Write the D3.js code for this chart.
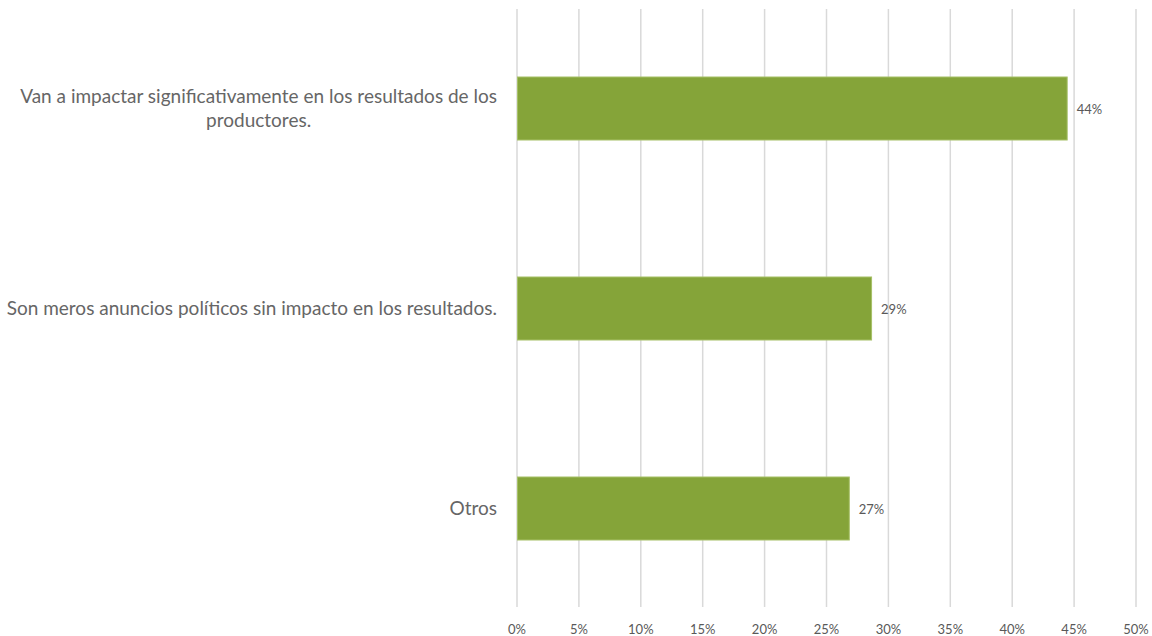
<!DOCTYPE html>
<html><head><meta charset="utf-8">
<script src="https://cdn.jsdelivr.net/npm/d3@7"></script>
<style>body{margin:0;background:#fff}svg{display:block}text{font-family:Lato,"Open Sans",sans-serif}</style>
</head><body>
<svg id="c" width="1152" height="636"></svg>
<script>
const categories = [
  ["Van a impactar significativamente en los resultados de los", "productores."],
  ["Son meros anuncios políticos sin impacto en los resultados."],
  ["Otros"]
];
const values = [0.444, 0.286, 0.268];
const valueLabels = ["44%", "29%", "27%"];
const ticks = [0, 0.05, 0.1, 0.15, 0.2, 0.25, 0.3, 0.35, 0.4, 0.45, 0.5];

const svg = d3.select("#c");
const x = d3.scaleLinear().domain([0, 0.5]).range([517, 1136]);
const y = d3.scaleBand().domain(d3.range(categories.length)).range([8.5, 608.5]).paddingInner(0.685).paddingOuter(0.3425);

// gridlines
svg.append("g").selectAll("line").data(ticks).join("line")
  .attr("x1", d => x(d)).attr("x2", d => x(d))
  .attr("y1", 9).attr("y2", 607)
  .attr("stroke", "#d9d9d9").attr("stroke-width", 1.5);

// tick labels
svg.append("g").selectAll("text").data(ticks).join("text")
  .attr("x", d => x(d)).attr("y", 634)
  .attr("text-anchor", "middle").attr("fill", "#595959").attr("font-size", 13)
  .text(d => d3.format(".0%")(d));

// bars
svg.append("g").selectAll("rect").data(values).join("rect")
  .attr("x", x(0) + 0.5).attr("y", (d, i) => y(i))
  .attr("width", d => x(d) - x(0)).attr("height", y.bandwidth())
  .attr("fill", "#85a439").attr("stroke", "#a6c067").attr("stroke-width", 1);

// value labels
svg.append("g").selectAll("text").data(values).join("text")
  .attr("x", d => x(d) + 10).attr("y", (d, i) => y(i) + y.bandwidth() / 2 + 5)
  .attr("fill", "#595959").attr("font-size", 13)
  .text((d, i) => valueLabels[i]);

// category labels
const lh = 24;
const cat = svg.append("g").selectAll("text").data(categories).join("text")
  .attr("text-anchor", "middle").attr("fill", "#666").attr("font-size", 19);
cat.each(function(lines, i) {
  const t = d3.select(this);
  const cy = y(i) + y.bandwidth() / 2;
  const y0 = cy - (lines.length - 1) * lh / 2 + 6;
  lines.forEach((l, j) => {
    t.append("tspan").attr("y", y0 + j * lh).text(l);
  });
});
cat.each(function() {
  const t = d3.select(this);
  let maxW = 0;
  t.selectAll("tspan").each(function() { maxW = Math.max(maxW, this.getComputedTextLength()); });
  t.selectAll("tspan").attr("x", 497 - maxW / 2);
});
</script>
</body></html>
